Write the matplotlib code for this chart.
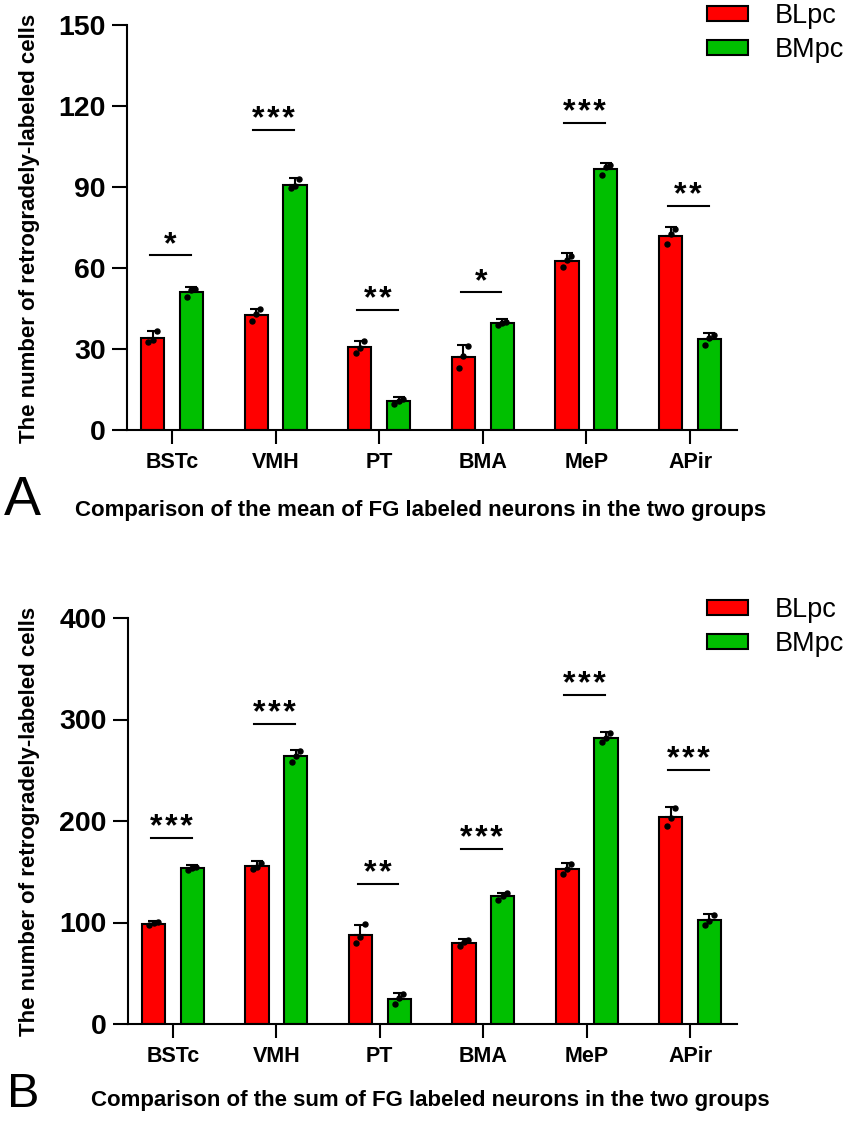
import numpy as np
import matplotlib
matplotlib.use("Agg")
import matplotlib.pyplot as plt

plt.rcParams['font.family'] = ['Liberation Sans', 'DejaVu Sans']

regions = ["BSTc", "VMH", "PT", "BMA", "MeP", "APir"]
groups = ["BLpc", "BMpc"]

# A: mean of FG labeled neurons (bar = mean, whisker = SD, dots = animals)
a_bl_mean = [34.2, 42.7, 30.6, 27.2, 62.6, 72.0]
a_bl_sd = [2.6, 2.3, 2.5, 4.4, 2.8, 3.2]
a_bl_pts = [[32.5, 33.5, 36.6], [40.3, 42.8, 45.0], [28.5, 30.4, 32.9],
            [23.0, 27.5, 31.1], [60.5, 62.9, 64.4], [69.0, 72.6, 74.4]]
a_bm_mean = [51.1, 90.9, 10.6, 39.6, 96.7, 33.6]
a_bm_sd = [2.0, 2.5, 1.5, 1.4, 2.2, 2.4]
a_bm_pts = [[49.2, 52.0, 52.1], [89.5, 90.5, 92.8], [9.6, 10.9, 11.3],
            [38.9, 39.8, 40.1], [94.6, 97.4, 98.1], [31.5, 34.0, 35.3]]
a_sig_y = [64.7, 111.0, 44.4, 51.0, 113.7, 82.8]
a_sig = ["*", "***", "**", "*", "***", "**"]

# B: sum of FG labeled neurons
b_bl_mean = [99.0, 155.3, 87.9, 79.7, 152.7, 203.7]
b_bl_sd = [2.0, 5.0, 10.0, 4.0, 6.0, 10.0]
b_bl_pts = [[97.6, 99.2, 100.2], [152.6, 154.8, 158.5], [79.5, 86.0, 98.2],
            [76.4, 80.3, 82.4], [147.5, 153.2, 157.4], [195.0, 203.4, 212.7]]
b_bm_mean = [153.3, 263.9, 25.0, 125.7, 282.0, 102.4]
b_bm_sd = [3.0, 6.0, 6.0, 3.6, 5.6, 6.0]
b_bm_pts = [[151.4, 153.6, 154.9], [258.5, 263.8, 269.4], [20.0, 25.2, 29.8],
            [122.6, 125.8, 128.7], [277.6, 281.5, 286.9], [97.8, 101.9, 107.5]]
b_sig_y = [183.6, 296.0, 137.9, 172.5, 323.8, 250.0]
b_sig = ["***", "***", "**", "***", "***", "***"]

RED = "#FF0000"
GREEN = "#00BF00"
W, H = 851, 1122


def draw_panel(ax, bl_mean, bl_sd, bl_pts, bm_mean, bm_sd, bm_pts,
               sig_y, sig, ymax, ystep, legend_top):
    x = np.arange(len(regions))
    off = 0.187
    bw = 0.225
    for xs, mean, sd, pts, col, lab in [
        (x - off, bl_mean, bl_sd, bl_pts, RED, groups[0]),
        (x + off, bm_mean, bm_sd, bm_pts, GREEN, groups[1]),
    ]:
        ax.bar(xs, mean, width=bw, color=col, edgecolor="black",
               linewidth=1.5, label=lab, zorder=2)
        ax.errorbar(xs, mean, yerr=[np.zeros(len(sd)), sd], fmt="none",
                    ecolor="black", elinewidth=1.5, capsize=4, capthick=1.5,
                    zorder=3)
        for xi, p in zip(xs, pts):
            ax.plot(xi + np.array([-0.04, 0.0, 0.04]), p, "o", color="black",
                    markersize=3.6, zorder=4)

    # significance bars; hair space between the stars
    for xi, yv, s in zip(x, sig_y, sig):
        ax.plot([xi - 0.215, xi + 0.18], [yv, yv], color="black", lw=1.5)
        ax.annotate("\u200a".join(s), (xi - 0.018, yv), xytext=(0, 2),
                    textcoords="offset pixels", ha="center", va="baseline",
                    fontsize=23, fontweight="bold")

    ax.set_xlim(-0.434, 5.453)
    ax.set_ylim(0, ymax)
    ax.set_yticks(np.arange(0, ymax + 1, ystep))
    ax.set_xticks(x)
    ax.set_xticklabels(regions)
    for sp in ["top", "right"]:
        ax.spines[sp].set_visible(False)
    for sp in ["left", "bottom"]:
        ax.spines[sp].set_linewidth(1.5)
    ax.tick_params(axis="y", length=10.5, width=1.5, pad=5, labelsize=20.5)
    ax.tick_params(axis="x", length=10, width=1.5, pad=6, labelsize=15.5)
    for t in ax.get_xticklabels() + ax.get_yticklabels():
        t.set_fontweight("bold")

    ax.legend(loc="upper left", bbox_to_anchor=(707 / W, 1 - legend_top / H),
              bbox_transform=fig.transFigure, frameon=False, fontsize=19.5,
              handlelength=1.5, handleheight=0.5, handletextpad=1.0,
              labelspacing=0.3, borderpad=0, borderaxespad=0)


fig = plt.figure(figsize=(W / 100, H / 100), dpi=100)

ax_a = fig.add_axes([127 / W, 1 - 430 / H, 610 / W, 405 / H])
draw_panel(ax_a, a_bl_mean, a_bl_sd, a_bl_pts, a_bm_mean, a_bm_sd, a_bm_pts,
           a_sig_y, a_sig, 150, 30, 3)

ax_b = fig.add_axes([128 / W, 1 - 1024 / H, 609 / W, 406 / H])
draw_panel(ax_b, b_bl_mean, b_bl_sd, b_bl_pts, b_bm_mean, b_bm_sd, b_bm_pts,
           b_sig_y, b_sig, 400, 100, 597)

ylab = "The number of retrogradely-labeled cells"
fig.text(30 / W, 1 - 228.5 / H, ylab, rotation=90, ha="center", va="center",
         fontsize=16, fontweight="bold")
fig.text(30 / W, 1 - 821 / H, ylab, rotation=90, ha="center", va="center",
         fontsize=16, fontweight="bold")

fig.text(22 / W, 1 - 515 / H, "A", ha="center", va="baseline", fontsize=40)
fig.text(23.5 / W, 1 - 1107 / H, "B", ha="center", va="baseline", fontsize=35)

fig.text(421 / W, 1 - 516 / H,
         "Comparison of the mean of FG labeled neurons in the two groups",
         ha="center", va="baseline", fontsize=16, fontweight="bold")
fig.text(430 / W, 1 - 1106 / H,
         "Comparison of the sum of FG labeled neurons in the two groups",
         ha="center", va="baseline", fontsize=16, fontweight="bold")

fig.savefig("out.png", dpi=100)
